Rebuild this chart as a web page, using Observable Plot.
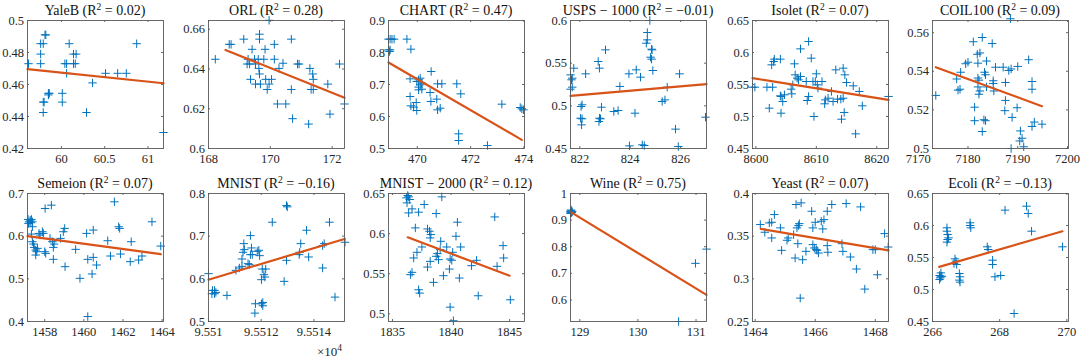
<!DOCTYPE html>
<html><head><meta charset="utf-8">
<script src="https://cdn.jsdelivr.net/npm/d3@7"></script>
<script src="https://cdn.jsdelivr.net/npm/@observablehq/plot@0.6"></script>
<style>
body{margin:0;background:#fff;}
#chart{position:relative;width:1080px;height:361px;overflow:hidden;font-family:"Liberation Serif","Times New Roman",serif;background:#fff;}
.panel{position:absolute;}
.panel svg text{font-family:"Liberation Serif","Times New Roman",serif;}
.title{position:absolute;white-space:nowrap;transform:translateX(-50%);font-size:14px;line-height:16px;color:#111;}
.title sup,.mult sup{font-size:9.5px;line-height:0;vertical-align:5px;}
.mult{position:absolute;white-space:nowrap;font-size:13px;line-height:16px;color:#262626;}
</style></head><body><div id="chart"></div>
<script>
// ---------- titles ----------
const names = ["YaleB","ORL","CHART","USPS − 1000","Isolet","COIL100","Semeion","MNIST","MNIST − 2000","Wine","Yeast","Ecoli"];
const r2 = ["0.02","0.28","0.47","−0.01","0.07","0.09","0.07","−0.16","0.12","0.75","0.07","−0.13"];

// ---------- YaleB ----------
const yalebX = [59.62,59.76,59.76,59.76,59.79,59.81,59.82,59.79,59.80,59.79,59.85,59.86,59.85,60.01,60.01,60.04,60.06,60.06,60.09,60.14,60.14,60.17,60.16,60.29,60.36,60.51,60.65,60.75,60.87,61.18];
const yalebY = [0.473,0.4855,0.479,0.473,0.4855,0.491,0.491,0.449,0.449,0.4425,0.4545,0.4545,0.4535,0.4545,0.449,0.473,0.473,0.467,0.4855,0.479,0.473,0.479,0.473,0.4425,0.461,0.467,0.467,0.467,0.4855,0.430];
const yalebLineX = [59.608,61.18], yalebLineY = [0.4696,0.4608];
const yalebXDom = [59.608,61.18], yalebYDom = [0.42,0.5];
const yalebXTicks = [60,60.5,61], yalebXLabels = ["60","60.5","61"];
const yalebYTicks = [0.42,0.44,0.46,0.48,0.5];

// ---------- ORL ----------
const orlX = [168.22,168.67,168.73,169.14,169.41,169.25,169.33,169.28,169.36,169.49,169.52,169.52,169.65,169.65,169.61,169.63,169.65,169.68,169.79,169.83,169.85,169.9,169.96,170.04,169.96,170.13,170.13,170.28,170.41,170.23,170.5,170.68,170.68,170.72,170.88,170.93,171.28,171.37,171.39,171.32,171.39,171.24,171.86,171.93,172.24,172.4];
const orlY = [0.6449,0.6524,0.6524,0.655,0.6499,0.6425,0.6425,0.6449,0.6348,0.6449,0.6425,0.6324,0.6575,0.655,0.6449,0.6403,0.6375,0.6324,0.6449,0.6499,0.6348,0.6297,0.6324,0.6348,0.6645,0.6524,0.6449,0.6403,0.6429,0.6224,0.6224,0.655,0.6297,0.615,0.6425,0.6425,0.6403,0.6375,0.6348,0.6297,0.6297,0.6123,0.6324,0.6173,0.6425,0.6224];
const orlLineX = [168.55,172.4], orlLineY = [0.6496,0.6255];
const orlXDom = [168,172.4], orlYDom = [0.6,0.6644];
const orlXTicks = [168,170,172], orlXLabels = ["168","170","172"];
const orlYTicks = [0.6,0.62,0.64,0.66];

// ---------- CHART ----------
const chartX = [468.92,468.98,469.05,469.13,468.92,468.98,468.96,469.61,469.76,469.73,469.73,469.76,469.86,469.96,469.98,469.98,470.05,470.05,470.05,470.11,470.11,470.17,470.17,470.52,470.48,470.51,470.76,470.73,470.76,470.86,470.92,471.48,471.63,471.55,471.55,472.63,473.17,473.86,473.92,473.98];
const chartY = [0.8417,0.8417,0.8417,0.8417,0.8083,0.8083,0.8031,0.8417,0.8104,0.7177,0.6625,0.6333,0.6292,0.6437,0.6187,0.7094,0.7146,0.6917,0.6833,0.699,0.7198,0.6854,0.7042,0.7406,0.675,0.6469,0.7021,0.6542,0.6208,0.626,0.7021,0.7021,0.6708,0.5458,0.525,0.5094,0.6385,0.6281,0.624,0.6208];
const chartLineX = [468.92,473.92], chartLineY = [0.7688,0.527];
const chartXDom = [468.92,474.02], chartYDom = [0.5,0.9];
const chartXTicks = [470,472,474], chartXLabels = ["470","472","474"];
const chartYTicks = [0.5,0.6,0.7,0.8,0.9];

// ---------- USPS - 1000 ----------
const uspsX = [821.63,821.67,821.63,821.70,821.76,821.70,822.23,822.05,822.09,822.03,822.09,822.07,822.73,822.78,822.86,822.78,822.82,822.76,823.02,823.35,823.52,823.59,823.95,823.97,824.24,824.19,824.41,824.48,824.56,824.68,824.64,824.68,824.78,824.85,824.87,824.81,824.85,824.9,825.27,825.38,825.47,825.8,825.91,825.96,826.99];
const uspsY = [0.5363,0.5305,0.5195,0.5219,0.5441,0.5324,0.5375,0.4992,0.5012,0.4855,0.4848,0.4777,0.552,0.5441,0.4984,0.4855,0.4848,0.4816,0.5656,0.4934,0.4945,0.5227,0.5375,0.4531,0.5422,0.4914,0.5336,0.4543,0.4535,0.5859,0.5734,0.5773,0.6,0.5664,0.5656,0.557,0.5547,0.5414,0.5051,0.507,0.5219,0.4727,0.4523,0.5375,0.4867];
const uspsLineX = [821.63,827.03], uspsLineY = [0.5117,0.5254];
const uspsXDom = [821.63,827.03], uspsYDom = [0.45,0.6];
const uspsXTicks = [822,824,826], uspsXLabels = ["822","824","826"];
const uspsYTicks = [0.45,0.5,0.55,0.6];

// ---------- Isolet ----------
const isoletX = [8599.44,8599.83,8601.83,8602.22,8602.61,8602.94,8603.05,8602.77,8604.05,8604.05,8604.16,8604.44,8604.16,8604.72,8605.83,8605.94,8606.11,8606.38,8606.5,8606.83,8607.05,8607.38,8607.38,8608.33,8608.5,8608.72,8608.72,8609.16,8609.44,8609.61,8610.0,8609.83,8610.16,8610.27,8610.94,8611.38,8611.5,8611.94,8612.5,8612.77,8613.22,8613.5,8614.05,8614.44,8614.16,8614.44,8614.72,8614.61,8615.0,8616.11,8616.5,8617.11,8617.61,8621.94];
const isoletY = [0.5458,0.5458,0.5458,0.513,0.5807,0.5859,0.5896,0.5458,0.5896,0.5323,0.5052,0.5234,0.5313,0.5339,0.5427,0.5354,0.5495,0.5823,0.5651,0.5599,0.5573,0.6057,0.5625,0.5547,0.525,0.5313,0.6172,0.5911,0.5547,0.5,0.5667,0.5547,0.5495,0.5443,0.5547,0.5198,0.526,0.5286,0.5391,0.5234,0.5729,0.5271,0.5271,0.5286,0.4958,0.5755,0.5651,0.5063,0.5531,0.5479,0.4729,0.5391,0.5167,0.5313];
const isoletLineX = [8599.44,8621.94], isoletLineY = [0.5599,0.526];
const isoletXDom = [8599.44,8621.94], isoletYDom = [0.45,0.65];
const isoletXTicks = [8600,8610,8620], isoletXLabels = ["8600","8610","8620"];
const isoletYTicks = [0.45,0.5,0.55,0.6,0.65];

// ---------- COIL100 ----------
const coilX = [7173.53,7177.73,7178.0,7178.4,7178.53,7179.53,7180.0,7181.07,7181.33,7181.33,7181.87,7182.4,7182.0,7182.0,7182.2,7182.0,7182.4,7182.2,7182.87,7182.87,7183.33,7183.53,7183.53,7183.2,7183.73,7183.73,7184.87,7185.07,7185.07,7185.2,7185.53,7187.07,7187.53,7187.53,7187.4,7188.2,7188.67,7188.53,7188.67,7188.87,7189.87,7190.0,7190.53,7190.4,7190.87,7191.2,7192.2,7192.87,7192.87,7192.87,7193.33,7194.87];
const coilY = [0.5275,0.536,0.5302,0.5307,0.5395,0.5439,0.5447,0.5553,0.5214,0.5144,0.5488,0.5495,0.5442,0.5365,0.5354,0.5319,0.5298,0.5281,0.5575,0.5088,0.5395,0.5382,0.5144,0.5149,0.5453,0.5319,0.5544,0.5351,0.5337,0.5298,0.5421,0.5421,0.5342,0.5249,0.5196,0.5404,0.5412,0.5672,0.5,0.5161,0.5211,0.5425,0.5091,0.5039,0.5053,0.5009,0.546,0.5347,0.5307,0.5114,0.5137,0.5126];
const coilLineX = [7173.53,7194.87], coilLineY = [0.5421,0.5219];
const coilXDom = [7172.87,7200.2], coilYDom = [0.5,0.5663];
const coilXTicks = [7170,7180,7190,7200], coilXLabels = ["7170","7180","7190","7200"];
const coilYTicks = [0.5,0.52,0.54,0.56];

// ---------- Semeion ----------
const semeionX = [1457.15,1457.2,1457.26,1457.29,1457.17,1457.32,1457.37,1457.37,1457.32,1457.37,1457.43,1457.46,1457.54,1457.54,1457.59,1457.63,1457.71,1457.76,1457.88,1457.93,1458.02,1458.34,1458.0,1458.05,1458.27,1458.39,1458.48,1458.44,1458.44,1458.81,1458.95,1459.02,1459.04,1459.58,1459.8,1460.14,1460.2,1460.2,1460.42,1460.48,1460.48,1460.65,1461.22,1461.36,1461.56,1461.78,1461.83,1461.87,1462.42,1462.37,1462.8,1462.97,1463.48,1463.93];
const semeionY = [0.6392,0.6337,0.6376,0.6314,0.6299,0.6392,0.6337,0.6221,0.6049,0.587,0.5815,0.5737,0.5675,0.5558,0.5636,0.5714,0.6065,0.6026,0.6104,0.6065,0.6649,0.6727,0.5636,0.5597,0.5948,0.587,0.5815,0.5737,0.5457,0.5948,0.6104,0.6182,0.5285,0.5691,0.5012,0.6065,0.5457,0.4116,0.5114,0.6143,0.5503,0.5324,0.5893,0.5535,0.6805,0.6221,0.6182,0.5581,0.587,0.5402,0.5441,0.5535,0.6337,0.5768];
const semeionLineX = [1457.12,1463.93], semeionLineY = [0.6,0.558];
const semeionXDom = [1457.12,1464.07], semeionYDom = [0.4,0.7];
const semeionXTicks = [1458,1460,1462,1464], semeionXLabels = ["1458","1460","1462","1464"];
const semeionYTicks = [0.4,0.5,0.6,0.7];

// ---------- MNIST ----------
const mnistX = [95510.0,95510.15,95510.23,95510.13,95510.23,95510.28,95510.7,95511.04,95511.17,95511.27,95511.31,95511.34,95511.36,95511.27,95511.55,95511.5,95511.59,95511.63,95511.59,95511.66,95511.78,95511.76,95511.85,95511.91,95511.94,95512.01,95512.01,95512.06,95512.06,95512.04,95512.1,95512.14,95512.17,95512.42,95512.87,95512.96,95512.99,95512.96,95513.46,95513.5,95513.44,95513.72,95513.8,95514.33,95514.39,95514.33,95514.59,95514.8,95515.18];
const mnistY = [0.6121,0.5729,0.5729,0.5651,0.5651,0.5682,0.5612,0.6199,0.6254,0.6465,0.6622,0.6825,0.6684,0.6293,0.6332,0.6356,0.6567,0.6724,0.7013,0.6567,0.5416,0.5197,0.6645,0.6669,0.6543,0.598,0.5416,0.5369,0.5447,0.623,0.6097,0.6042,0.623,0.7327,0.5941,0.7718,0.7687,0.6434,0.6622,0.6825,0.6567,0.7139,0.6512,0.6778,0.6825,0.6254,0.7327,0.5572,0.6857];
const mnistLineX = [95510,95515.16], mnistLineY = [0.598,0.6935];
const mnistXDom = [95510,95515.16], mnistYDom = [0.5,0.8];
const mnistXTicks = [95510,95512,95514], mnistXLabels = ["9.551","9.5512","9.5514"];
const mnistYTicks = [0.5,0.6,0.7,0.8];

// ---------- MNIST - 2000 ----------
const mnist2kX = [1836.19,1836.3,1836.38,1836.47,1836.24,1836.38,1836.67,1837.23,1837.71,1836.95,1836.53,1836.67,1836.81,1837.09,1837.23,1837.32,1837.51,1837.99,1838.16,1838.28,1838.22,1838.22,1837.99,1838.5,1838.73,1838.84,1838.73,1838.93,1839.12,1839.07,1839.21,1839.35,1839.63,1839.86,1839.92,1840.06,1839.92,1840.14,1840.2,1840.42,1840.54,1840.71,1840.82,1841.75,1842.18,1842.32,1843.73,1843.93,1844.44,1844.49,1845.06];
const mnist2kY = [0.6446,0.6475,0.6458,0.6425,0.6383,0.6258,0.6308,0.6267,0.6363,0.6071,0.5488,0.5517,0.5696,0.5767,0.53,0.5258,0.5833,0.6058,0.6029,0.5988,0.5946,0.5654,0.5583,0.5392,0.625,0.575,0.5717,0.5675,0.5904,0.58,0.6458,0.5475,0.5833,0.5558,0.5683,0.5667,0.5083,0.5767,0.4913,0.5967,0.6142,0.5446,0.5833,0.56,0.5667,0.5225,0.6208,0.5592,0.585,0.5696,0.5175];
const mnist2kLineX = [1836.3,1845.0], mnist2kLineY = [0.5954,0.5475];
const mnist2kXDom = [1834.66,1846.27], mnist2kYDom = [0.4904,0.65];
const mnist2kXTicks = [1835,1840,1845], mnist2kXLabels = ["1835","1840","1845"];
const mnist2kYTicks = [0.5,0.55,0.6,0.65];

// ---------- Wine ----------
const wineX = [128.84,128.85,128.86,128.87,128.84,128.85,128.86,128.84,130.99,130.7,131.18];
const wineY = [0.93,0.935,0.928,0.932,0.925,0.938,0.93,0.933,0.7375,0.519,0.791];
const wineLineX = [128.84,131.18], wineLineY = [0.931,0.619];
const wineXDom = [128.84,131.18], wineYDom = [0.519,1];
const wineXTicks = [129,130,131], wineXLabels = ["129","130","131"];
const wineYTicks = [0.6,0.7,0.8,0.9,1];

// ---------- Yeast ----------
const yeastX = [1464.17,1464.32,1464.47,1464.55,1464.64,1464.55,1464.84,1464.88,1465.06,1465.1,1465.28,1465.33,1465.36,1465.53,1465.39,1465.44,1465.47,1465.42,1465.5,1465.58,1465.69,1465.88,1465.92,1465.92,1465.97,1466.03,1466.0,1466.06,1466.11,1466.2,1466.29,1466.25,1466.4,1466.4,1466.42,1466.55,1466.89,1466.92,1467.03,1467.17,1467.37,1467.51,1467.65,1467.92,1468.0,1468.07,1468.31,1468.43];
const yeastY = [0.3636,0.3546,0.3655,0.3663,0.3753,0.3479,0.3597,0.3334,0.3452,0.3479,0.3518,0.3244,0.3871,0.389,0.3597,0.3624,0.3647,0.3412,0.2774,0.3224,0.3322,0.3792,0.3597,0.3401,0.3362,0.3342,0.3663,0.3334,0.3303,0.3675,0.3694,0.3585,0.3792,0.3389,0.3311,0.3871,0.3412,0.3322,0.3882,0.3256,0.3115,0.3843,0.288,0.3342,0.3342,0.3048,0.353,0.3373];
const yeastLineX = [1464.19,1468.44], yeastLineY = [0.3585,0.3334];
const yeastXDom = [1463.91,1468.44], yeastYDom = [0.25,0.4];
const yeastXTicks = [1464,1466,1468], yeastXLabels = ["1464","1466","1468"];
const yeastYTicks = [0.25,0.3,0.35,0.4];

// ---------- Ecoli ----------
const ecoliX = [266.21,266.23,266.25,266.21,266.28,266.25,266.43,266.43,266.45,266.48,266.45,266.43,266.67,266.7,266.64,266.72,266.8,266.82,266.8,266.82,267.12,267.12,267.14,267.63,267.66,267.79,267.79,267.86,268.03,268.16,268.43,268.8,268.85,268.95,269.87];
const ecoliY = [0.5219,0.5182,0.5198,0.5156,0.5208,0.526,0.5964,0.5911,0.5859,0.5807,0.5781,0.574,0.5479,0.5443,0.5406,0.5391,0.525,0.5198,0.5146,0.5115,0.6042,0.6,0.5964,0.5667,0.5625,0.5458,0.5391,0.5198,0.5219,0.624,0.4625,0.6302,0.6188,0.5911,0.5667];
const ecoliLineX = [266.2,269.87], ecoliLineY = [0.5354,0.591];
const ecoliXDom = [266,270.05], ecoliYDom = [0.45,0.65];
const ecoliXTicks = [266,268,270], ecoliXLabels = ["266","268","270"];
const ecoliYTicks = [0.45,0.5,0.55,0.6,0.65];

// ---------- assemble ----------
const panels = [
  [yalebX,yalebY,yalebLineX,yalebLineY,yalebXDom,yalebYDom,yalebXTicks,yalebXLabels,yalebYTicks],
  [orlX,orlY,orlLineX,orlLineY,orlXDom,orlYDom,orlXTicks,orlXLabels,orlYTicks],
  [chartX,chartY,chartLineX,chartLineY,chartXDom,chartYDom,chartXTicks,chartXLabels,chartYTicks],
  [uspsX,uspsY,uspsLineX,uspsLineY,uspsXDom,uspsYDom,uspsXTicks,uspsXLabels,uspsYTicks],
  [isoletX,isoletY,isoletLineX,isoletLineY,isoletXDom,isoletYDom,isoletXTicks,isoletXLabels,isoletYTicks],
  [coilX,coilY,coilLineX,coilLineY,coilXDom,coilYDom,coilXTicks,coilXLabels,coilYTicks],
  [semeionX,semeionY,semeionLineX,semeionLineY,semeionXDom,semeionYDom,semeionXTicks,semeionXLabels,semeionYTicks],
  [mnistX,mnistY,mnistLineX,mnistLineY,mnistXDom,mnistYDom,mnistXTicks,mnistXLabels,mnistYTicks],
  [mnist2kX,mnist2kY,mnist2kLineX,mnist2kLineY,mnist2kXDom,mnist2kYDom,mnist2kXTicks,mnist2kXLabels,mnist2kYTicks],
  [wineX,wineY,wineLineX,wineLineY,wineXDom,wineYDom,wineXTicks,wineXLabels,wineYTicks],
  [yeastX,yeastY,yeastLineX,yeastLineY,yeastXDom,yeastYDom,yeastXTicks,yeastXLabels,yeastYTicks],
  [ecoliX,ecoliY,ecoliLineX,ecoliLineY,ecoliXDom,ecoliYDom,ecoliXTicks,ecoliXLabels,ecoliYTicks]
];

const frameLefts = [27,208,388,570,752,932];
const frameTops = [20,193];
const FW = 136, FH = 128, ML = 50, MR = 12, MT = 10, MB = 30;
const serif = '"Liberation Serif","Times New Roman",serif';
const axisColor = "#262626", frameColor = "#5a5a5a";
const blue = "#0072BD", orange = "#D95319";
const plus = {draw(ctx, size){const r = Math.sqrt(size/Math.PI); ctx.moveTo(-r,0); ctx.lineTo(r,0); ctx.moveTo(0,-r); ctx.lineTo(0,r);}};
const chart = document.getElementById("chart");

panels.forEach((p, k) => {
  const [X,Y,LX,LY,xd,yd,xt,xl,yt] = p;
  const row = Math.floor(k/6), col = k%6;
  const L = frameLefts[col], T = frameTops[row];
  const inX = xt.filter(v => v >= xd[0] && v <= xd[1]);
  const inY = yt.filter(v => v >= yd[0] - 1e-9 && v <= yd[1] + 1e-9);
  const svg = Plot.plot({
    width: FW + ML + MR, height: FH + MT + MB,
    marginLeft: ML, marginRight: MR, marginTop: MT, marginBottom: MB,
    style: `background:transparent;overflow:visible;font-family:${serif};font-size:12.5px;color:${axisColor};`,
    x: {domain: xd, axis: null},
    y: {domain: yd, axis: null},
    marks: [
      Plot.tickX(inX, {x: d => d, insetTop: FH - 2, stroke: axisColor, strokeWidth: 0.7}),
      Plot.tickX(inX, {x: d => d, insetBottom: FH - 2, stroke: axisColor, strokeWidth: 0.7}),
      Plot.tickY(inY, {y: d => d, insetRight: FW - 2, stroke: axisColor, strokeWidth: 0.7}),
      Plot.tickY(inY, {y: d => d, insetLeft: FW - 2, stroke: axisColor, strokeWidth: 0.7}),
      Plot.dot(X, {x: X, y: Y, symbol: plus, r: 4.2, stroke: blue, fill: "none", strokeWidth: 1}),
      Plot.line(LX, {x: LX, y: LY, stroke: orange, strokeWidth: 2.2}),
      Plot.frame({stroke: frameColor, strokeWidth: 0.9}),
      Plot.text(xt, {x: xt, text: xl, frameAnchor: "bottom", dy: 14.5, fill: axisColor, fontSize: 12.5, fontFamily: serif}),
      Plot.text(yt, {y: yt, text: yt.map(String), frameAnchor: "left", dx: -3.5, textAnchor: "end", fill: axisColor, fontSize: 12.5, fontFamily: serif})
    ]
  });
  const wrap = document.createElement("div");
  wrap.className = "panel";
  wrap.style.left = (L - ML) + "px";
  wrap.style.top = (T - MT) + "px";
  wrap.appendChild(svg);
  chart.appendChild(wrap);

  const t = document.createElement("div");
  t.className = "title";
  t.style.left = (L + FW/2) + "px";
  t.style.top = (T - 17) + "px";
  t.innerHTML = names[k] + " (R<sup>2</sup> = " + r2[k] + ")";
  chart.appendChild(t);
});

const m = document.createElement("div");
m.className = "mult";
m.style.left = "317px";
m.style.top = "344px";
m.innerHTML = "×10<sup>4</sup>";
chart.appendChild(m);
</script></body></html>
